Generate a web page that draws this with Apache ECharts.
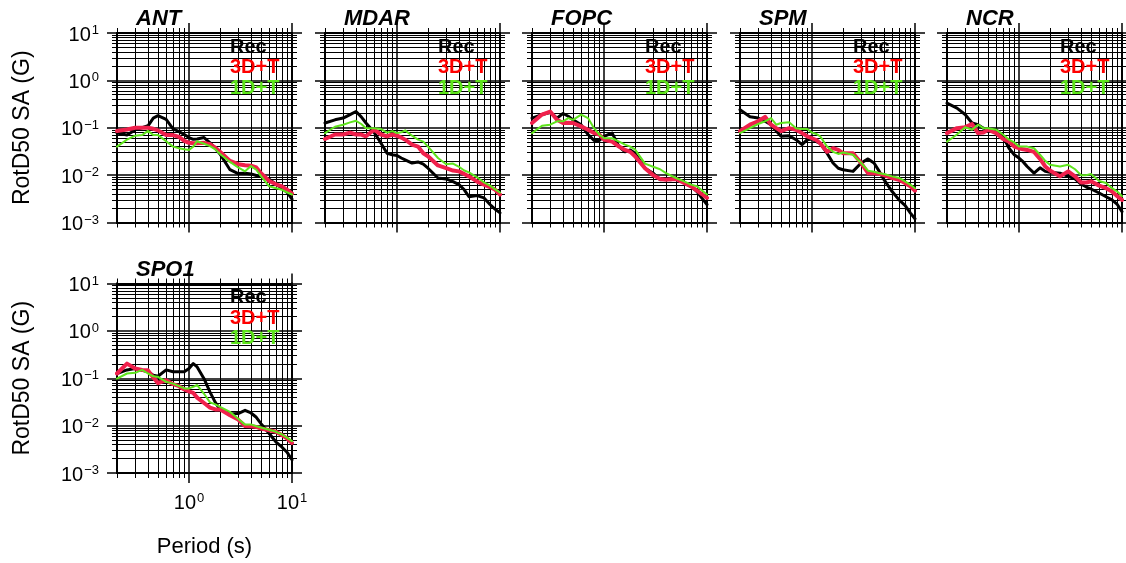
<!DOCTYPE html>
<html>
<head>
<meta charset="utf-8">
<script src="https://cdn.jsdelivr.net/npm/echarts@6/dist/echarts.min.js"></script>
<style>
html, body { margin: 0; padding: 0; background: #fff; }
#chart { width: 1126px; height: 563px; }
</style>
</head>
<body>
<div id="chart"></div>
<script>
// Spectral periods (s) shared by every station curve
const periods = [0.2, 0.25, 0.3, 0.35, 0.4, 0.45, 0.5, 0.6, 0.7, 0.8, 0.9, 1.0, 1.1, 1.2, 1.4, 1.6, 1.8, 2.0, 2.5, 3, 3.5, 4, 4.5, 5, 6, 7, 8, 9, 10];

// RotD50 spectral acceleration (g): recorded, 3D+T and 1D+T simulations
const antRec = [0.077, 0.07, 0.09, 0.1, 0.11, 0.16, 0.18, 0.15, 0.095, 0.083, 0.072, 0.062, 0.057, 0.058, 0.062, 0.048, 0.037, 0.028, 0.013, 0.0108, 0.011, 0.0106, 0.0098, 0.0094, 0.0082, 0.0064, 0.0053, 0.0043, 0.0031];
const ant3D  = [0.085, 0.092, 0.1, 0.1, 0.1, 0.095, 0.088, 0.07, 0.07, 0.064, 0.053, 0.048, 0.047, 0.047, 0.048, 0.045, 0.038, 0.031, 0.02, 0.017, 0.0162, 0.0158, 0.0145, 0.011, 0.0075, 0.0064, 0.0058, 0.0049, 0.0041];
const ant1D  = [0.04, 0.056, 0.068, 0.07, 0.086, 0.07, 0.07, 0.052, 0.04, 0.037, 0.035, 0.034, 0.04, 0.052, 0.046, 0.041, 0.035, 0.028, 0.019, 0.0145, 0.012, 0.0155, 0.013, 0.0095, 0.0058, 0.0053, 0.0049, 0.0043, 0.0039];

const mdarRec = [0.126, 0.147, 0.16, 0.19, 0.22, 0.17, 0.126, 0.08, 0.047, 0.029, 0.027, 0.026, 0.023, 0.021, 0.018, 0.019, 0.017, 0.014, 0.0087, 0.0083, 0.0073, 0.0063, 0.0049, 0.0035, 0.0037, 0.0033, 0.0024, 0.0019, 0.0016];
const mdar3D  = [0.058, 0.072, 0.072, 0.079, 0.072, 0.072, 0.066, 0.091, 0.072, 0.066, 0.072, 0.068, 0.062, 0.056, 0.044, 0.04, 0.029, 0.025, 0.016, 0.014, 0.0125, 0.012, 0.0106, 0.0094, 0.0073, 0.0063, 0.0056, 0.0049, 0.0039];
const mdar1D  = [0.077, 0.105, 0.116, 0.13, 0.14, 0.12, 0.098, 0.098, 0.094, 0.079, 0.085, 0.077, 0.08, 0.088, 0.068, 0.056, 0.051, 0.04, 0.023, 0.017, 0.0175, 0.015, 0.0125, 0.0114, 0.009, 0.007, 0.006, 0.005, 0.0043];

const fopcRec = [0.16, 0.19, 0.21, 0.16, 0.2, 0.175, 0.147, 0.115, 0.072, 0.054, 0.054, 0.066, 0.072, 0.077, 0.04, 0.031, 0.034, 0.029, 0.014, 0.011, 0.008, 0.0082, 0.008, 0.0087, 0.007, 0.0058, 0.0045, 0.0032, 0.0024];
const fopc3D  = [0.126, 0.19, 0.22, 0.147, 0.126, 0.128, 0.126, 0.107, 0.091, 0.077, 0.072, 0.056, 0.053, 0.051, 0.04, 0.034, 0.031, 0.025, 0.014, 0.01, 0.0083, 0.008, 0.0082, 0.0083, 0.0068, 0.0058, 0.0047, 0.0039, 0.0033];
const fopc1D  = [0.077, 0.11, 0.116, 0.137, 0.137, 0.16, 0.147, 0.19, 0.16, 0.098, 0.072, 0.06, 0.06, 0.06, 0.051, 0.044, 0.04, 0.035, 0.0175, 0.015, 0.0133, 0.011, 0.0097, 0.0087, 0.0074, 0.0063, 0.0058, 0.0047, 0.0039];

const spmRec = [0.24, 0.17, 0.16, 0.137, 0.116, 0.085, 0.066, 0.068, 0.056, 0.044, 0.056, 0.058, 0.051, 0.047, 0.029, 0.018, 0.014, 0.013, 0.012, 0.018, 0.022, 0.018, 0.012, 0.008, 0.0045, 0.003, 0.0023, 0.0016, 0.0012];
const spm3D  = [0.085, 0.116, 0.137, 0.17, 0.116, 0.098, 0.085, 0.098, 0.091, 0.077, 0.066, 0.06, 0.055, 0.047, 0.031, 0.037, 0.034, 0.029, 0.029, 0.018, 0.011, 0.011, 0.0106, 0.01, 0.0087, 0.008, 0.0068, 0.0058, 0.0047];
const spm1D  = [0.077, 0.098, 0.12, 0.137, 0.16, 0.116, 0.126, 0.13, 0.098, 0.094, 0.094, 0.079, 0.074, 0.066, 0.04, 0.031, 0.028, 0.03, 0.027, 0.018, 0.0124, 0.0118, 0.011, 0.0106, 0.0094, 0.0087, 0.0074, 0.0063, 0.0053];

const ncrRec = [0.33, 0.26, 0.19, 0.126, 0.116, 0.098, 0.091, 0.091, 0.066, 0.037, 0.027, 0.023, 0.019, 0.0152, 0.011, 0.0143, 0.012, 0.0115, 0.011, 0.0094, 0.0083, 0.0065, 0.0056, 0.0051, 0.0042, 0.0035, 0.003, 0.0024, 0.0017];
const ncr3D  = [0.077, 0.098, 0.103, 0.12, 0.077, 0.079, 0.091, 0.077, 0.058, 0.051, 0.04, 0.037, 0.035, 0.034, 0.031, 0.022, 0.0152, 0.0125, 0.0094, 0.012, 0.0094, 0.007, 0.007, 0.0074, 0.006, 0.0053, 0.0045, 0.0036, 0.003];
const ncr1D  = [0.051, 0.072, 0.103, 0.091, 0.116, 0.098, 0.098, 0.091, 0.072, 0.056, 0.049, 0.04, 0.04, 0.04, 0.037, 0.027, 0.02, 0.0165, 0.0152, 0.0165, 0.0133, 0.01, 0.01, 0.0106, 0.0075, 0.0068, 0.0053, 0.0045, 0.0036];

const spo1Rec = [0.126, 0.15, 0.16, 0.147, 0.137, 0.116, 0.11, 0.15, 0.137, 0.137, 0.137, 0.16, 0.204, 0.173, 0.098, 0.051, 0.031, 0.022, 0.0175, 0.018, 0.021, 0.0185, 0.015, 0.011, 0.0068, 0.0045, 0.0035, 0.0027, 0.0019];
const spo13D  = [0.126, 0.204, 0.16, 0.15, 0.147, 0.104, 0.079, 0.091, 0.075, 0.068, 0.058, 0.053, 0.049, 0.039, 0.03, 0.024, 0.022, 0.022, 0.0165, 0.0134, 0.0098, 0.0097, 0.0094, 0.0087, 0.008, 0.0074, 0.0063, 0.0053, 0.0043];
const spo11D  = [0.098, 0.126, 0.13, 0.15, 0.126, 0.11, 0.107, 0.084, 0.077, 0.068, 0.061, 0.061, 0.066, 0.072, 0.047, 0.031, 0.028, 0.025, 0.0195, 0.014, 0.0105, 0.0106, 0.0097, 0.0091, 0.0082, 0.0074, 0.0065, 0.0055, 0.0047];

const stations = ['ANT', 'MDAR', 'FOPC', 'SPM', 'NCR', 'SPO1'];
const recorded = [antRec, mdarRec, fopcRec, spmRec, ncrRec, spo1Rec];
const sim3D = [ant3D, mdar3D, fopc3D, spm3D, ncr3D, spo13D];
const sim1D = [ant1D, mdar1D, fopc1D, spm1D, ncr1D, spo11D];
const seriesNames = ['Rec', '3D+T', '1D+T'];

// Log-axis tick positions
const xMajor = [1, 10];
const xMinor = [0.2, 0.3, 0.4, 0.5, 0.6, 0.7, 0.8, 0.9, 2, 3, 4, 5, 6, 7, 8, 9];
const yMajor = [0.001, 0.01, 0.1, 1, 10];
const yMinor = [];
for (let e = -3; e <= 0; e++) {
  for (let k = 2; k <= 9; k++) yMinor.push(Number((k * Math.pow(10, e)).toPrecision(3)));
}

const FONT = '"Liberation Sans", Arial, Helvetica, sans-serif';
const COLORS = ['#000000', '#f0204c', '#5ee41c'];
const LEGEND_COLORS = ['#000000', '#ff0000', '#5ee41c'];
const WIDTHS = [3, 4, 2];

// Panel placement: five columns, two rows
const panelW = 175, panelH = 189.5;
const colLeft = [117, 325, 532, 740, 947];
const rowTop = [33, 283.5];
const panels = stations.map((s, i) => ({
  left: colLeft[i % 5],
  top: rowTop[Math.floor(i / 5)],
  col: i % 5,
  row: Math.floor(i / 5)
}));

function powLabel(v) {
  const e = Math.round(Math.log10(v));
  const s = e < 0 ? '\u2212' + (-e) : String(e);
  return '{b|10}{s|' + s + '}';
}
const labelRich = {
  b: { fontSize: 20, fontFamily: FONT, color: '#000', verticalAlign: 'bottom', lineHeight: 24 },
  s: { fontSize: 13, fontFamily: FONT, color: '#000', verticalAlign: 'bottom', lineHeight: 24, padding: [0, 0, 8, 1] }
};

const grids = [], xAxes = [], yAxes = [], series = [], titles = [], legends = [];

panels.forEach((p, g) => {
  grids.push({ left: p.left, top: p.top, width: panelW, height: panelH, containLabel: false });

  const isBottom = g === 5;
  const isLeft = p.col === 0;
  const common = { gridIndex: g, type: 'log', logBase: 10, silent: true };
  const line = { show: true, onZero: false, lineStyle: { color: '#000', width: 2 } };

  const xBase = Object.assign({}, common, { min: 0.2, max: 10 });
  // bottom: minor ticks + minor grid
  xAxes.push(Object.assign({}, xBase, {
    position: 'bottom', axisLine: line,
    axisTick: { show: true, customValues: xMinor, length: 5, lineStyle: { color: '#000', width: 1 } },
    splitLine: { show: true, lineStyle: { color: '#000', width: 1 } },
    minorTick: { show: false }, axisLabel: { show: false }
  }));
  // bottom: decade ticks + decade grid + labels
  xAxes.push(Object.assign({}, xBase, {
    position: 'bottom', axisLine: line,
    axisTick: { show: true, customValues: xMajor, length: 10, lineStyle: { color: '#000', width: 1.5 } },
    splitLine: { show: true, lineStyle: { color: '#000', width: 1.5 } },
    axisLabel: isBottom ? { show: true, customValues: xMajor, margin: 16, formatter: powLabel, rich: labelRich } : { show: false },
    name: isBottom ? 'Period (s)' : '', nameLocation: 'middle', nameGap: 63,
    nameTextStyle: { fontSize: 22, fontFamily: FONT, color: '#000' }
  }));
  // top frame
  xAxes.push(Object.assign({}, xBase, {
    position: 'top', axisLine: line,
    axisTick: { show: true, customValues: xMinor, length: 5, lineStyle: { color: '#000', width: 1 } },
    splitLine: { show: false }, axisLabel: { show: false }
  }));
  xAxes.push(Object.assign({}, xBase, {
    position: 'top', axisLine: line,
    axisTick: { show: true, customValues: xMajor, length: 10, lineStyle: { color: '#000', width: 1.5 } },
    splitLine: { show: false }, axisLabel: { show: false }
  }));

  const yBase = Object.assign({}, common, { min: 0.001, max: 10 });
  yAxes.push(Object.assign({}, yBase, {
    position: 'left', axisLine: line,
    axisTick: { show: true, customValues: yMinor, length: 5, lineStyle: { color: '#000', width: 1 } },
    splitLine: { show: true, lineStyle: { color: '#000', width: 1 } },
    axisLabel: { show: false }
  }));
  yAxes.push(Object.assign({}, yBase, {
    position: 'left', axisLine: line,
    axisTick: { show: true, customValues: yMajor, length: 10, lineStyle: { color: '#000', width: 1.5 } },
    splitLine: { show: true, lineStyle: { color: '#000', width: 1.5 } },
    axisLabel: isLeft ? { show: true, customValues: yMajor, margin: 18, formatter: powLabel, rich: labelRich } : { show: false },
    name: isLeft ? 'RotD50 SA (G)' : '', nameLocation: 'middle', nameRotate: 90, nameGap: 83,
    nameTextStyle: { fontSize: 23, fontFamily: FONT, color: '#000' }
  }));
  yAxes.push(Object.assign({}, yBase, {
    position: 'right', axisLine: line,
    axisTick: { show: true, customValues: yMinor, length: 5, lineStyle: { color: '#000', width: 1 } },
    splitLine: { show: false }, axisLabel: { show: false }
  }));
  yAxes.push(Object.assign({}, yBase, {
    position: 'right', axisLine: line,
    axisTick: { show: true, customValues: yMajor, length: 10, lineStyle: { color: '#000', width: 1.5 } },
    splitLine: { show: false }, axisLabel: { show: false }
  }));

  const curves = [recorded[g], sim3D[g], sim1D[g]];
  curves.forEach((vals, k) => {
    series.push({
      name: seriesNames[k], type: 'line',
      xAxisIndex: g * 4, yAxisIndex: g * 4,
      data: periods.map((t, i) => [t, vals[i]]),
      showSymbol: false, symbol: 'none', silent: true, animation: false,
      lineStyle: { color: COLORS[k], width: WIDTHS[k], join: 'round', cap: 'round' },
      itemStyle: { color: COLORS[k] },
      z: 3 + k
    });
  });

  titles.push({
    text: stations[g], left: p.left + 19, top: p.top - 25, padding: 0,
    textStyle: { fontSize: 22, fontWeight: 'bold', fontStyle: 'italic', fontFamily: FONT, color: '#000' }
  });

  legends.push({
    orient: 'vertical', left: p.left + 108, top: p.top + 4, padding: 0,
    itemGap: 0, itemWidth: 0, itemHeight: 20, icon: 'none', selectedMode: false,
    textStyle: { fontSize: 20, fontWeight: 'bold', fontFamily: FONT, lineHeight: 20.5 },
    data: seriesNames.map((n, k) => ({ name: n, textStyle: { color: LEGEND_COLORS[k] } }))
  });
});

const chart = echarts.init(document.getElementById('chart'), null, { renderer: 'canvas' });
chart.setOption({
  animation: false,
  backgroundColor: '#ffffff',
  title: titles,
  legend: legends,
  grid: grids,
  xAxis: xAxes,
  yAxis: yAxes,
  series: series
});
</script>
</body>
</html>
